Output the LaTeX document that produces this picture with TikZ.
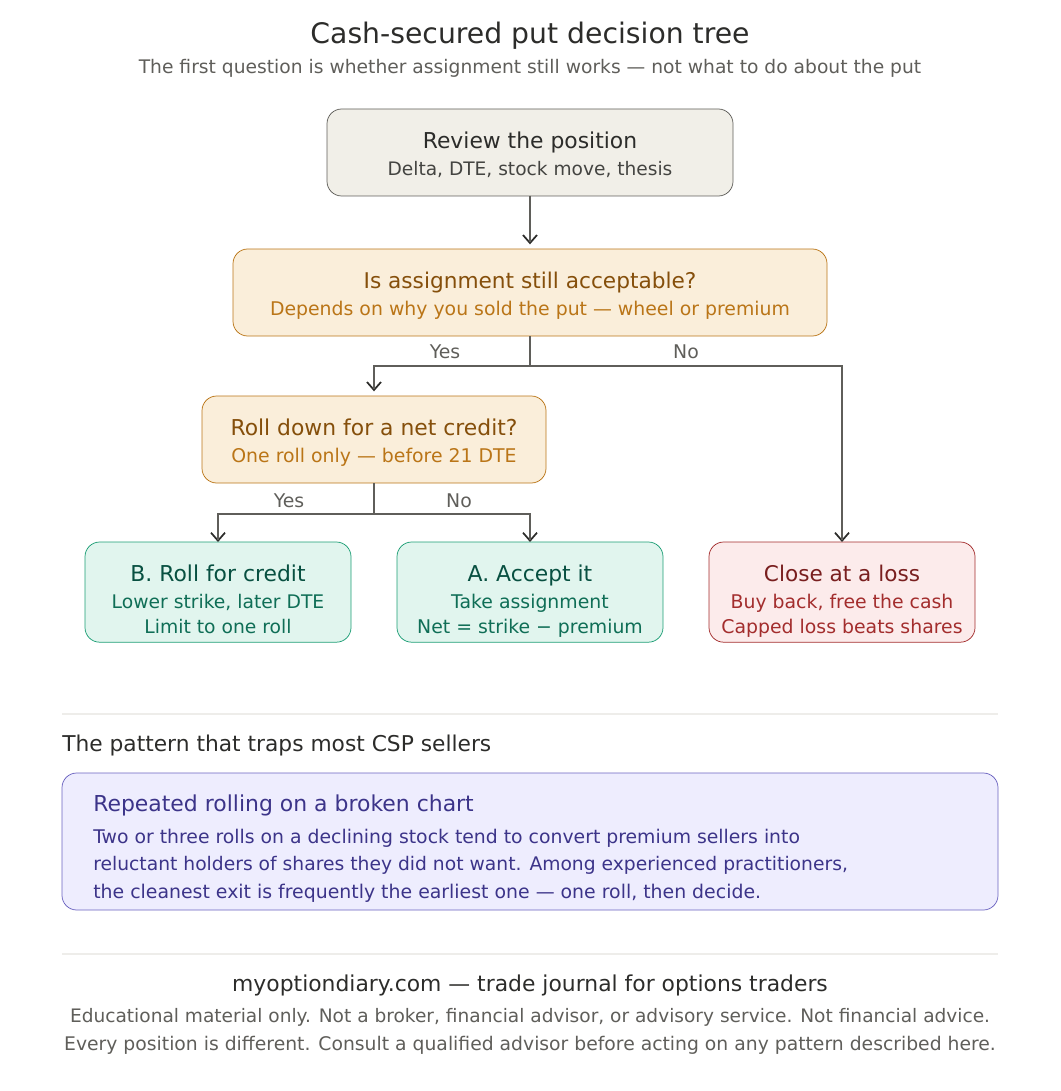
\documentclass[tikz,border=0pt]{standalone}
\usepackage{fontspec}
\setmainfont{DejaVu Sans}
\usetikzlibrary{positioning, arrows.meta}

\definecolor{grayfill}{HTML}{F1EFE8}
\definecolor{graytitle}{HTML}{2C2C2A}
\definecolor{graysub}{HTML}{444441}
\definecolor{grayline}{HTML}{5F5E5A}
\definecolor{amberfill}{HTML}{FAEEDA}
\definecolor{ambertitle}{HTML}{854F0B}
\definecolor{ambersub}{HTML}{BA7517}
\definecolor{tealfill}{HTML}{E1F5EE}
\definecolor{tealtitle}{HTML}{085041}
\definecolor{tealsub}{HTML}{0F6E56}
\definecolor{tealline}{HTML}{1D9E75}
\definecolor{redfill}{HTML}{FCEBEB}
\definecolor{redtitle}{HTML}{791F1F}
\definecolor{redsub}{HTML}{A32D2D}
\definecolor{purplefill}{HTML}{EEEDFE}
\definecolor{purpletext}{HTML}{3C3489}
\definecolor{purpleline}{HTML}{6B63C0}
\definecolor{rulegray}{HTML}{EEEDEA}

\newcommand{\headsize}{\fontsize{16.4}{20}\selectfont}
\newcommand{\subsize}{\fontsize{14.15}{18.75}\selectfont}
\newcommand{\topgap}{\rule{0pt}{29.4pt}}
\newcommand{\lowgapshort}{\rule[-15.4pt]{0pt}{15.4pt}}
\newcommand{\lowgaptall}{\rule[-6.75pt]{0pt}{6.75pt}}

\begin{document}
\begin{tikzpicture}
    [x=0.75pt, y=-0.75pt,
    basebox/.style={rectangle, rounded corners=11pt, line width=0.55pt, outer sep=0pt, inner sep=0pt, align=center, font=\subsize},
    graybox/.style={basebox, fill=grayfill, draw=grayline, text=graysub, minimum height=65.25pt},
    amberbox/.style={basebox, fill=amberfill, draw=ambersub, text=ambersub, minimum height=65.25pt},
    tealbox/.style={basebox, fill=tealfill, draw=tealline, text=tealsub, minimum width=199.5pt, minimum height=75pt},
    redbox/.style={basebox, fill=redfill, draw=redsub, text=redsub, minimum width=199.5pt, minimum height=75pt},
    flowline/.style={draw=grayline, line width=1.8pt, shorten >=#1+1.5pt,
        preaction={draw=graytitle, line width=1.3pt, shorten >=#1, -{Straight Barb[length=6pt, width=10.5pt]}}},
    flowline/.default=0pt,
    branchlabel/.style={text=grayline, font=\subsize, inner sep=0pt},
    rulebar/.style={draw=rulegray, line width=1.1pt},]

    \useasboundingbox (0,0) rectangle (1060,1091);

    %Heading
    \node(title)[text=graytitle, font=\fontsize{21.2}{25}\selectfont, inner sep=0pt, anchor=base] at (530,43.5) {Cash-secured put decision tree};
    \node(subtitle)[text=grayline, font=\fontsize{14.02}{19}\selectfont, inner sep=0pt, anchor=base] at (530,74) {The first question is whether assignment still works — not what to do about the put};

    %Boxes
    \node[graybox, minimum width=304.5pt](review) at (530,152.5)
        {\topgap\textcolor{graytitle}{\headsize Review the position}\\[1.5pt]\fontsize{13.95}{18.75}\selectfont Delta, DTE, stock move, thesis\lowgapshort};
    \node[amberbox, minimum width=445.5pt](assign)[below=39.75pt of review]
        {\topgap\textcolor{ambertitle}{\fontsize{16.25}{20}\selectfont Is assignment still acceptable?}\\[1.5pt]\subsize Depends on why you sold the put — wheel or premium\lowgapshort};
    \node[amberbox, minimum width=258pt](rolldown) at (374,439.5)
        {\topgap\textcolor{ambertitle}{\headsize Roll down for a net credit?}\\[1.5pt]\subsize One roll only — before 21 DTE\lowgapshort};

    \node[tealbox](accept)[below=154.5pt of assign]
        {\topgap\textcolor{tealtitle}{\headsize A. Accept it}\\[1.5pt]\subsize Take assignment\\\subsize Net = strike − premium\lowgaptall};
    \node[tealbox](rollcredit)[left=34.5pt of accept]
        {\topgap\textcolor{tealtitle}{\headsize B. Roll for credit}\\[1.5pt]\fontsize{14.05}{18.75}\selectfont Lower strike, later DTE\\\fontsize{14.05}{18.75}\selectfont Limit to one roll\lowgaptall};
    \node[redbox](closeloss)[right=34.5pt of accept]
        {\topgap\textcolor{redtitle}{\fontsize{16.2}{20}\selectfont Close at a loss}\\[1.5pt]\subsize Buy back, free the cash\\\subsize Capped loss beats shares\lowgaptall};

    %Branch points
    \coordinate(firstsplit) at (530,366);
    \coordinate(secondsplit) at (374,514);

    %Lines
    \draw[flowline=3.5pt](review)--(assign);
    \draw[flowline=3.5pt](assign.south)--(firstsplit)-|(rolldown.north);
    \draw[flowline](firstsplit)-|(closeloss.north);
    \draw[flowline](rolldown.south)--(secondsplit)-|(rollcredit.north);
    \draw[flowline](secondsplit)-|(accept.north);

    %Branch labels
    \node[branchlabel](yesone) at (445,352) {Yes};
    \node[branchlabel](noone) at (686,352) {No};
    \node[branchlabel](yestwo) at (289,501) {Yes};
    \node[branchlabel](notwo) at (459,501) {No};

    %Pattern section
    \coordinate(ruleoneleft) at (62,714);
    \coordinate(ruleoneright) at (998,714);
    \draw[rulebar](ruleoneleft)--(ruleoneright);
    \node(patternhead)[anchor=base west, text=graytitle, font=\fontsize{16.32}{20}\selectfont, inner sep=0pt] at (62,751) {The pattern that traps most CSP sellers};

    \node[basebox, fill=purplefill, draw=purpleline, minimum width=702pt, minimum height=102.75pt](patternbox) at (530,841.5) {};
    \node(patterntitle)[anchor=base west, text=purpletext, font=\fontsize{16.45}{20}\selectfont, inner sep=0pt] at (93,811) {Repeated rolling on a broken chart};
    \node(patternone)[anchor=base west, text=purpletext, font=\fontsize{14.12}{19}\selectfont, inner sep=0pt] at (93,843) {Two or three rolls on a declining stock tend to convert premium sellers into};
    \node(patterntwo)[anchor=base west, text=purpletext, font=\fontsize{14.04}{19}\selectfont, inner sep=0pt] at (93,870) {reluctant holders of shares they did not want. Among experienced practitioners,};
    \node(patternthree)[anchor=base west, text=purpletext, font=\fontsize{14.17}{19}\selectfont, inner sep=0pt] at (93,898) {the cleanest exit is frequently the earliest one — one roll, then decide.};

    %Footer
    \coordinate(ruletwoleft) at (62,954);
    \coordinate(ruletworight) at (998,954);
    \draw[rulebar](ruletwoleft)--(ruletworight);
    \node(footerhead)[anchor=base, text=graytitle, font=\fontsize{16.4}{20}\selectfont, inner sep=0pt] at (530,991) {myoptiondiary.com — trade journal for options traders};
    \node(footerone)[anchor=base, text=grayline, font=\fontsize{13.93}{19}\selectfont, inner sep=0pt] at (530,1022) {Educational material only. Not a broker, financial advisor, or advisory service. Not financial advice.};
    \node(footertwo)[anchor=base, text=grayline, font=\fontsize{14.08}{19}\selectfont, inner sep=0pt] at (530,1050) {Every position is different. Consult a qualified advisor before acting on any pattern described here.};
\end{tikzpicture}
\end{document}
